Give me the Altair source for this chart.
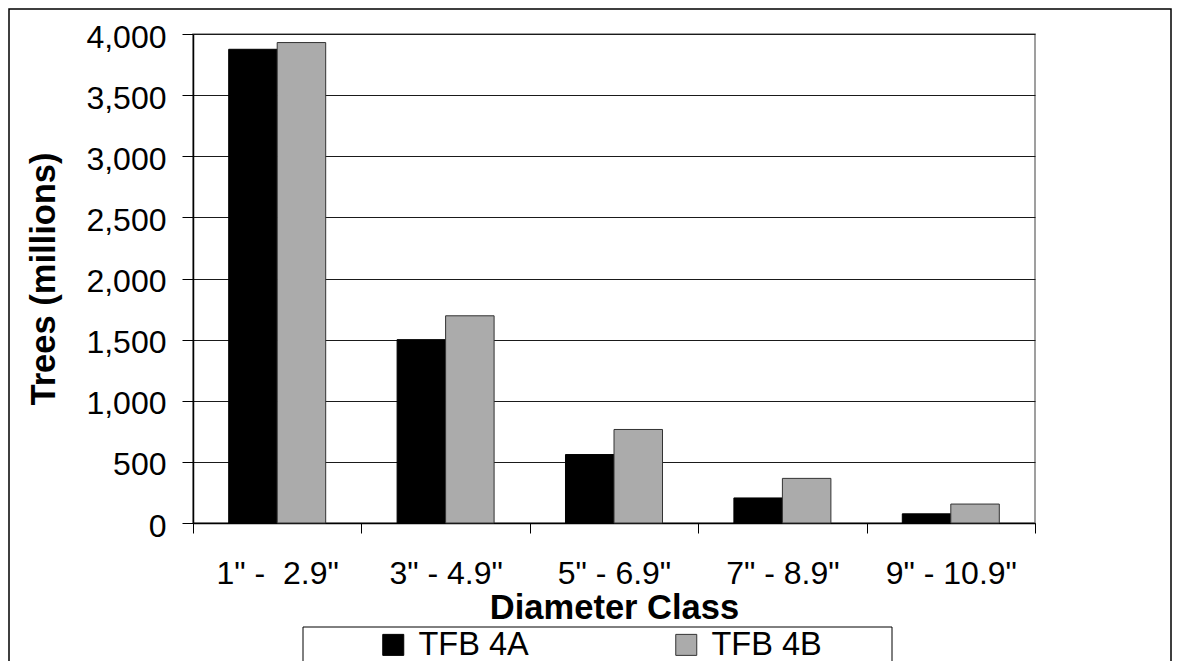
import altair as alt
import pandas as pd

# ---- data ----
categories = ['1" - \u00a02.9"', '3" - 4.9"', '5" - 6.9"', '7" - 8.9"', '9" - 10.9"']
series = ["TFB 4A", "TFB 4B"]
tfb_4a = [3875, 1500, 560, 205, 75]
tfb_4b = [3930, 1695, 765, 365, 155]
y_ticks = [0, 500, 1000, 1500, 2000, 2500, 3000, 3500, 4000]

rows = []
for c, a, b in zip(categories, tfb_4a, tfb_4b):
    rows.append({"cls": c, "series": series[0], "trees": a})
    rows.append({"cls": c, "series": series[1], "trees": b})
df = pd.DataFrame(rows)

FONT = "Liberation Sans"
W, H = 842, 489

legend = alt.Legend(
    title=None, orient="none", legendX=184, legendY=594.5, direction="horizontal",
    symbolType="square", symbolSize=441, symbolStrokeWidth=1,
    labelFont=FONT, labelFontSize=32.5, labelColor="black", labelOffset=9,
    columnPadding=141, padding=0, labelLimit=400,
)

bars = alt.Chart(df).mark_bar(strokeWidth=1).encode(
    x=alt.X(
        "cls:N", sort=categories,
        scale=alt.Scale(paddingInner=0, paddingOuter=0),
        axis=alt.Axis(
            title="Diameter Class", labelAngle=0, tickBand="extent", tickSize=10,
            tickColor="black", domainColor="black", domainWidth=1.5, labelFont=FONT,
            labelFontSize=32, labelPadding=25, labelColor="black", labelLimit=400,
            titleFont=FONT, titleFontSize=34.5, titleFontWeight="bold", titleColor="black",
            titleBaseline="alphabetic", titleY=95, grid=False,
        ),
    ),
    xOffset=alt.XOffset("series:N", sort=series,
                        scale=alt.Scale(paddingOuter=0.736, paddingInner=0)),
    y=alt.Y(
        "trees:Q", scale=alt.Scale(domain=[0, 4000], nice=False),
        axis=alt.Axis(
            title="Trees (millions)", values=y_ticks, format=",.0f", tickSize=11,
            tickColor="black", domainColor="black", domainWidth=1.5, grid=True,
            gridColor="#1a1a1a", gridWidth=1, labelFont=FONT, labelFontSize=32,
            labelColor="black", labelPadding=16, labelOffset=3,
            titleFont=FONT, titleFontSize=34.5, titleFontWeight="bold", titleColor="black",
            titleX=-149, titleY=244.5, titleBaseline="middle", titleAlign="center",
        ),
    ),
    fill=alt.Fill("series:N", sort=series,
                  scale=alt.Scale(domain=series, range=["#000000", "#ababab"]),
                  legend=legend),
    stroke=alt.Stroke("series:N", sort=series,
                      scale=alt.Scale(domain=series, range=["#000000", "#333333"]),
                      legend=legend),
)

legend_box = alt.Chart(alt.Data(values=[{"k": 1}])).mark_rect(
    fillOpacity=0, stroke="black", strokeWidth=1
).encode(x=alt.value(110), x2=alt.value(699), y=alt.value(593), y2=alt.value(634))

frame = alt.Chart(alt.Data(values=[{"k": 1}])).mark_rect(
    fillOpacity=0, stroke="black", strokeWidth=1.5
).encode(x=alt.value(-184), x2=alt.value(978), y=alt.value(-25), y2=alt.value(700))

chart = alt.layer(frame, legend_box, bars).properties(
    width=W, height=H,
    autosize=alt.AutoSizeParams(type="none"),
    padding={"left": 185, "top": 26, "right": 137, "bottom": 138},
    background="white",
).configure_view(stroke="#808080", strokeWidth=1.5)

chart.save("out.html", embed_options={"renderer": "svg", "actions": False})
